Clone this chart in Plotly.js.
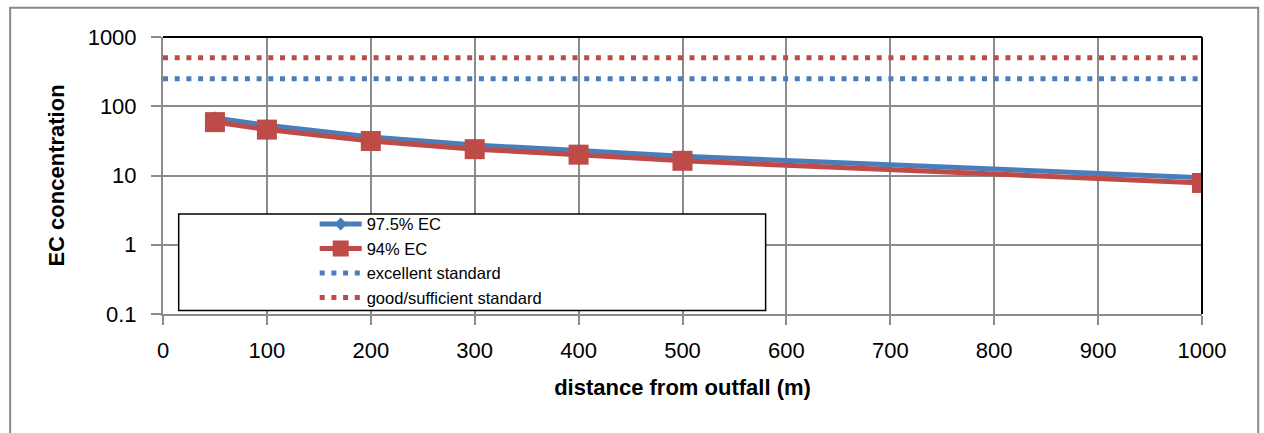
<!DOCTYPE html>
<html>
<head>
<meta charset="utf-8">
<script src="https://cdn.plot.ly/plotly-3.0.1.min.js"></script>
<style>
  html, body { margin: 0; padding: 0; background: #ffffff; }
  #chart { width: 1264px; height: 433px; }
</style>
</head>
<body>
<div id="chart"></div>
<script>
// Data
const distance = [50, 100, 200, 300, 400, 500, 1000];
const ec975 = [68, 53, 36, 27.5, 23, 19, 9.3];
const ec94 = [59, 46, 31.5, 24, 20, 16.3, 7.8];
const standardDistance = [0, 1000];
const excellentStandard = [250, 250];
const goodStandard = [500, 500];
const seriesNames = ['97.5% EC', '94% EC', 'excellent standard', 'good/sufficient standard'];
const yTickVals = [0.1, 1, 10, 100, 1000];
const yTickText = ['0.1', '1', '10', '100', '1000'];
const xTickVals = [0, 100, 200, 300, 400, 500, 600, 700, 800, 900, 1000];

const blue = '#4A7EBB';
const red = '#BE4B48';
const grid = '#8C8C8C';
const FONT = 'Liberation Sans, Arial, sans-serif';

const traces = [
  {
    x: distance, y: ec975, name: seriesNames[0], type: 'scatter', mode: 'lines+markers',
    line: {color: blue, width: 5},
    marker: {symbol: 'diamond', size: 10, color: blue}
  },
  {
    x: distance, y: ec94, name: seriesNames[1], type: 'scatter', mode: 'lines+markers',
    line: {color: red, width: 5},
    marker: {symbol: 'square', size: 20, color: red}
  },
  {
    x: standardDistance, y: excellentStandard, name: seriesNames[2], type: 'scatter', mode: 'lines',
    line: {color: blue, width: 5, dash: '5px,6.7px'}
  },
  {
    x: standardDistance, y: goodStandard, name: seriesNames[3], type: 'scatter', mode: 'lines',
    line: {color: red, width: 5, dash: '5px,6.7px'}
  }
];

const layout = {
  width: 1264, height: 433,
  margin: {l: 163, r: 62, t: 37, b: 119, pad: 0},
  paper_bgcolor: '#ffffff', plot_bgcolor: '#ffffff',
  font: {family: FONT, color: '#000000', size: 22},
  showlegend: true,
  legend: {
    x: 0.146, y: 0.387, xanchor: 'left', yanchor: 'top',
    bgcolor: 'rgba(0,0,0,0)', borderwidth: 0,
    font: {family: FONT, size: 16.5, color: '#000000'},
    itemwidth: 42,
    tracegroupgap: 0
  },
  xaxis: {
    type: 'linear', range: [0, 1000], tickvals: xTickVals,
    showgrid: true, gridcolor: grid, gridwidth: 2,
    showline: true, linecolor: grid, linewidth: 2,
    ticks: 'outside', ticklen: 9, tickcolor: grid, tickwidth: 2,
    ticklabelstandoff: 7,
    zeroline: false, tickfont: {family: FONT, size: 22},
    title: {text: '<b>distance from outfall (m)</b>', font: {family: FONT, size: 22}, standoff: 17}
  },
  yaxis: {
    type: 'log', range: [-1, 3], tickvals: yTickVals, ticktext: yTickText,
    showgrid: true, gridcolor: grid, gridwidth: 2,
    showline: true, linecolor: grid, linewidth: 2,
    ticks: 'outside', ticklen: 10, tickcolor: grid, tickwidth: 2,
    ticklabelstandoff: 10,
    zeroline: false, tickfont: {family: FONT, size: 22},
    title: {text: '<b>EC concentration</b>', font: {family: FONT, size: 22}, standoff: 17}
  },
  shapes: [
    // outer chart frame
    {type: 'rect', xref: 'paper', yref: 'paper', x0: -0.1471, x1: 1.0541, y0: -0.46, y1: 1.1052,
     line: {color: '#898989', width: 2}, fillcolor: 'rgba(0,0,0,0)', layer: 'below'},
    // plot-area border top and right
    {type: 'line', xref: 'paper', yref: 'paper', x0: 0, x1: 1, y0: 1, y1: 1,
     line: {color: '#000000', width: 2}, layer: 'above'},
    {type: 'line', xref: 'paper', yref: 'paper', x0: 1, x1: 1, y0: 0, y1: 1,
     line: {color: '#000000', width: 2}, layer: 'above'},
    // legend box
    {type: 'rect', xref: 'paper', yref: 'paper', x0: 0.0151, x1: 0.580, y0: 0.013, y1: 0.361,
     line: {color: '#000000', width: 1.5}, fillcolor: '#ffffff', layer: 'above'}
  ]
};

Plotly.newPlot('chart', traces, layout, {displayModeBar: false, staticPlot: true});
</script>
</body>
</html>
